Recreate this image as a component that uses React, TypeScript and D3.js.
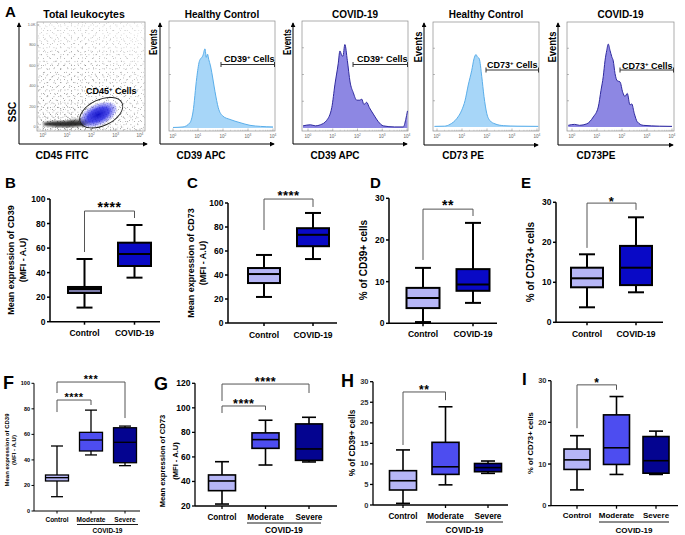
import React from "react";
import * as d3 from "d3";

const FONT = "'Liberation Sans', Arial, Helvetica, sans-serif";

// ---------------- categories ----------------
const groupsTwo = ["Control", "COVID-19"];
const groupsThree = ["Control", "Moderate", "Severe"];
const severityGroupLabel = "COVID-19";

// ---------------- box statistics: [min, q1, median, q3, max] ----------------
const cd39MfiB = [[11.5, 23.4, 26.6, 28.3, 51.1], [35.9, 45.4, 55.2, 64.4, 78.8]];
const cd73MfiC = [[21.7, 33.3, 40.8, 45.8, 56.7], [53.3, 64, 73.5, 79, 91.7]];
const cd39PctD = [[0.3, 3.65, 6.05, 8.5, 13.3], [4.9, 7.8, 9.3, 13, 24.1]];
const cd73PctE = [[3.75, 8.75, 11, 13.65, 17], [7.5, 9.3, 13.65, 19.1, 26.25]];
const cd39MfiF = [[11.2, 23.5, 26.1, 28.2, 50.9], [43.9, 47, 55.6, 61.6, 79], [35.5, 37.8, 53.8, 65.2, 66.5]];
const cd73MfiG = [[21.6, 32.5, 40.4, 45.3, 56.1], [53.4, 67, 74.1, 79.6, 89.9], [55.9, 57.2, 66.5, 86.9, 92.3]];
const cd39PctH = [[0.4, 3.65, 5.9, 8.35, 13.4], [4.9, 7.45, 9.3, 15.25, 23.9], [7.7, 8.1, 9.1, 10.1, 10.7]];
const cd73PctI = [[3.8, 8.7, 11, 13.6, 16.8], [7.5, 9.9, 13.9, 21.8, 26.2], [7.5, 7.8, 10.8, 16.6, 17.9]];

// ---------------- tick values ----------------
const ticksMfi = [0, 20, 40, 60, 80, 100];
const ticksMfiG = [20, 40, 60, 80, 100, 120];
const ticksPct10 = [0, 10, 20, 30];
const ticksPct5 = [0, 5, 10, 15, 20, 25, 30];
const decades = [0, 1, 2, 3, 4];
const sscTicks = [0, 200, 400, 600, 800, 1000];
const sscTickLabels = ["0", "200", "400", "600", "800", "1.0K"];

// ---------------- significance brackets ----------------
const sigB = [{ a: 0, b: 1, level: 90.2, endA: 56.8, endB: 84.5, label: "****" }];
const sigC = [{ a: 0, b: 1, level: 103.3, endA: 77.5, endB: 96.7, label: "****" }];
const sigD = [{ a: 0, b: 1, level: 27.4, endA: 15.2, endB: 25.75, label: "**" }];
const sigE = [{ a: 0, b: 1, level: 29.8, endA: 18.6, endB: 28.1, label: "*" }];
const sigF = [
  { a: 0, b: 1, level: 86.9, endA: 77.5, endB: 83, label: "****" },
  { a: 0, b: 2, level: 101, endA: 92.4, endB: 72.8, label: "***" },
];
const sigG = [
  { a: 0, b: 1, level: 101.5, endA: 95.8, endB: 98.2, label: "****" },
  { a: 0, b: 2, level: 119.4, endA: 105.6, endB: 112.1, label: "****" },
];
const sigH = [{ a: 0, b: 1, level: 27.5, endA: 14.6, endB: 25.5, label: "**" }];
const sigI = [{ a: 0, b: 1, level: 29, endA: 18.6, endB: 27.8, label: "*" }];

// ---------------- flow histograms: [log10 intensity, % of max scale] ----------------
const histHcCD39 = [[0, 0.5], [0.4, 1], [0.68, 5], [0.8, 15], [0.95, 47], [1.05, 62], [1.2, 68], [1.28, 74], [1.33, 66], [1.38, 69], [1.43, 64], [1.5, 58], [1.55, 52], [1.68, 34], [1.81, 19], [2.0, 11], [2.28, 8], [2.68, 5], [3.08, 2.5], [3.5, 1.5], [4, 1]];
const histCovCD39 = [[-0.2, 2], [0.1, 3], [0.3, 2], [0.5, 3], [0.75, 7], [0.96, 19], [1.09, 41], [1.22, 60], [1.29, 72], [1.36, 68], [1.41, 67], [1.49, 78], [1.59, 63], [1.7, 43], [1.83, 33], [1.97, 26], [2.1, 26], [2.17, 27], [2.26, 22], [2.37, 24], [2.48, 19], [2.64, 13], [2.84, 6], [3.04, 2], [3.5, 1], [3.85, 1], [3.95, 8], [4.02, 16]];
const histHcCD73 = [[-0.1, 0.6], [0.3, 0.8], [0.52, 2.5], [0.79, 8], [0.99, 16], [1.12, 25], [1.25, 40], [1.39, 54], [1.48, 65], [1.56, 69], [1.61, 67], [1.69, 65], [1.79, 48], [1.88, 29], [1.99, 13], [2.12, 6], [2.32, 3], [2.65, 1.3], [3.2, 0.8], [4.05, 0.6]];
const histCovCD73 = [[-0.15, 1.6], [0.1, 2.5], [0.3, 1.6], [0.59, 3], [0.85, 9.5], [1.05, 19], [1.16, 35], [1.25, 48], [1.32, 63], [1.39, 73], [1.45, 79], [1.52, 73], [1.59, 67], [1.65, 63], [1.72, 51], [1.81, 44], [1.92, 43], [2.03, 33], [2.12, 29], [2.21, 32], [2.32, 21], [2.39, 22], [2.49, 13], [2.61, 5], [2.85, 1.6], [3.5, 0.8], [4.0, 0.6]];

// gate starts (log10)
const gateStartCD39Hc = 1.92;
const gateStartCD39Cov = 1.82;
const gateStartCD73Hc = 1.96;
const gateStartCD73Cov = 1.92;

// CD45+ gate in (log10 CD45, SSC)
const cd45Gate = { logX: 2.4, ssc: 140 };

// ---------------- colors ----------------
const cControl = "#b6b6f6";
const cControlB = "#7b7ba9";
const cCovid = "#0909c6";
const cModerate = "#4d4df0";
const cSevere = "#040490";
const hcFill = "#a7d6f8";
const hcStroke = "#5aaeea";
const covFill = "#8d87e3";
const covStroke = "#2f2a9e";

type Bracket = { a: number; b: number; level: number; endA: number; endB: number; label: string };

function BoxPanel(p: any) {
  const y = d3.scaleLinear().domain(p.domain).range([p.yBottom, p.yTop]);
  const x = d3.scalePoint<string>().domain(p.cats).range(p.catRange);
  const tc = p.tickColor || "#000";
  const tl = p.tickLen ?? 3;
  return (
    <g>
      <text x={p.letterX} y={p.letterY} fontSize={p.letterSize} fontWeight="bold">{p.letter}</text>
      {p.titles.map((t: string, i: number) => (
        <text key={i} transform={`translate(${p.titleX[i]},${p.titleY}) rotate(-90)`} textAnchor="middle"
          dominantBaseline="central" fontSize={p.titleSize} fontWeight="bold">{t}</text>
      ))}
      <line x1={p.axisX} x2={p.axisX} y1={p.yBottom} y2={p.yTop} stroke="#000" strokeWidth={p.axisW} />
      <line x1={p.axisX} x2={p.xEnd} y1={p.yBottom} y2={p.yBottom} stroke="#000" strokeWidth={p.axisW} />
      {p.ticks.map((t: number) => (
        <g key={t}>
          <line x1={p.axisX - tl} x2={p.axisX} y1={y(t)} y2={y(t)} stroke="#000" strokeWidth={p.axisW} />
          <text x={p.axisX - tl - 1.5} y={y(t)} textAnchor="end" dominantBaseline="central"
            fontSize={p.tickSize} fontWeight="bold" fill={tc}>{t}</text>
        </g>
      ))}
      {p.cats.map((c: string) => (
        <g key={c}>
          <line x1={x(c)} x2={x(c)} y1={p.yBottom} y2={p.yBottom + tl} stroke="#000" strokeWidth={p.axisW} />
          <text x={x(c)} y={p.catY} textAnchor="middle" fontSize={p.catSize} fontWeight="bold">{c}</text>
        </g>
      ))}
      {p.group && (
        <g>
          <line x1={p.group.x1} x2={p.group.x2} y1={p.group.y} y2={p.group.y} stroke="#000" strokeWidth={0.9} />
          <text x={(p.group.x1 + p.group.x2) / 2} y={p.group.labelY} textAnchor="middle" fontSize={p.catSize}
            fontWeight="bold">{p.group.label}</text>
        </g>
      )}
      {p.stats.map((s: number[], i: number) => {
        const cx = x(p.cats[i]) as number;
        const bw = p.boxW, cw = p.capW;
        return (
          <g key={i} stroke="#000" strokeWidth={p.strokeW}>
            <line x1={cx} x2={cx} y1={y(s[4])} y2={y(s[3])} />
            <line x1={cx} x2={cx} y1={y(s[1])} y2={y(s[0])} />
            <line x1={cx - cw / 2} x2={cx + cw / 2} y1={y(s[4])} y2={y(s[4])} />
            <line x1={cx - cw / 2} x2={cx + cw / 2} y1={y(s[0])} y2={y(s[0])} />
            <rect x={cx - bw / 2} y={y(s[3])} width={bw} height={y(s[1]) - y(s[3])} fill={p.colors[i]} />
            <line x1={cx - bw / 2} x2={cx + bw / 2} y1={y(s[2])} y2={y(s[2])} />
          </g>
        );
      })}
      {p.brackets.map((b: Bracket, i: number) => {
        const xa = x(p.cats[b.a]) as number;
        const xb = x(p.cats[b.b]) as number;
        return (
          <g key={i}>
            <path d={`M${xa},${y(b.endA)}V${y(b.level)}H${xb}V${y(b.endB)}`} fill="none" stroke="#555" strokeWidth={1} />
            <text x={(xa + xb) / 2} y={y(b.level) - p.starDy + 0.58 * p.starSize} textAnchor="middle"
              fontSize={p.starSize} fontWeight="bold" letterSpacing={p.starSpacing ?? 0.5}>{b.label}</text>
          </g>
        );
      })}
    </g>
  );
}

function Decade({ x, y, e }: any) {
  return (
    <text x={x} y={y} textAnchor="middle" fontSize={4.5} fill="#666">
      10<tspan dy={-1.8} fontSize={3.2}>{e}</tspan>
    </text>
  );
}

function BoxTicks({ x, box }: any) {
  const marks: JSX.Element[] = [];
  decades.forEach((d) => {
    marks.push(<line key={`M${d}`} x1={x(d)} x2={x(d)} y1={box[3]} y2={box[3] - 2.5} stroke="#777" strokeWidth={0.5} />);
    if (d < 4)
      [2, 3, 4, 5, 6, 7, 8, 9].forEach((m) => {
        const v = d + Math.log10(m);
        marks.push(<line key={`m${d}-${m}`} x1={x(v)} x2={x(v)} y1={box[3]} y2={box[3] - 1.2} stroke="#999" strokeWidth={0.4} />);
      });
  });
  return <g>{marks}</g>;
}

function HistPanel(p: any) {
  const box = p.box;
  const x = d3.scaleLinear().domain([0, 4]).range([p.x0, p.x1]);
  const y = d3.scaleLinear().domain([0, 100]).range([p.base, box[1]]);
  const area = d3.area<number[]>().x((d) => x(d[0])).y0(p.base).y1((d) => y(d[1])).curve(d3.curveMonotoneX);
  const line = d3.line<number[]>().x((d) => x(d[0])).y((d) => y(d[1])).curve(d3.curveMonotoneX);
  const gx = x(p.gateFrom);
  return (
    <g>
      <clipPath id={`clip-${p.id}`}><rect x={box[0]} y={box[1]} width={box[2] - box[0]} height={box[3] - box[1]} /></clipPath>
      <rect x={box[0]} y={box[1]} width={box[2] - box[0]} height={box[3] - box[1]} fill="#fff" stroke="#8a8a8a" strokeWidth={0.7} />
      <g clipPath={`url(#clip-${p.id})`}>
        <path d={area(p.data) || ""} fill={p.fill} />
        <path d={line(p.data) || ""} fill="none" stroke={p.stroke} strokeWidth={1} />
      </g>
      {[0.25, 0.5, 0.75].map((f) => (
        <line key={f} x1={box[0]} x2={box[0] + 2} y1={y(f * 100)} y2={y(f * 100)} stroke="#777" strokeWidth={0.5} />
      ))}
      <BoxTicks x={x} box={box} />
      {decades.map((d) => <Decade key={d} x={x(d)} y={box[3] + 7} e={d} />)}
      <line x1={p.axisX} x2={p.axisX} y1={p.axisY} y2={23} stroke="#000" strokeWidth={1} markerEnd="url(#arr)" />
      <line x1={p.axisX} x2={box[2] - 1} y1={p.axisY} y2={p.axisY} stroke="#000" strokeWidth={1} markerEnd="url(#arr)" />
      <text x={(box[0] + box[2]) / 2} y={18} textAnchor="middle" fontSize={10} fontWeight="bold">{p.title}</text>
      <text x={p.xLabelX} y={159} textAnchor="middle" fontSize={10} fontWeight="bold">{p.xLabel}</text>
      <text transform={`translate(${p.eventsX},${p.eventsY}) rotate(-90)`} textAnchor="middle" dominantBaseline="central"
        fontSize={10} fontWeight="bold" textLength={p.eventsLen} lengthAdjust="spacingAndGlyphs">Events</text>
      <path d={`M${gx},${p.gateY - 2.5}V${p.gateY + 2.5}M${gx},${p.gateY}H${box[2]}M${box[2] - 0.5},${p.gateY - 2.5}V${p.gateY + 2.5}`}
        stroke="#333" strokeWidth={1} fill="none" />
      <text x={p.gateTextX} y={p.gateTextY} fontSize={9} fontWeight="bold">
        {p.marker}<tspan dy={-3} fontSize={6}>+</tspan><tspan dy={3}> Cells</tspan>
      </text>
    </g>
  );
}

function ScatterPanel() {
  const box = [37, 22, 145, 131];
  const x = d3.scaleLinear().domain([0, 4]).range([43, 140]);
  const y = d3.scaleLinear().domain([0, 1000]).range([127, 25]);
  const gx = x(cd45Gate.logX), gy = y(cd45Gate.ssc);
  return (
    <g>
      <clipPath id="clip-sc"><rect x={box[0]} y={box[1]} width={box[2] - box[0]} height={box[3] - box[1]} /></clipPath>
      <rect x={box[0]} y={box[1]} width={box[2] - box[0]} height={box[3] - box[1]} fill="#fff" stroke="#8a8a8a" strokeWidth={0.7} />
      <g clipPath="url(#clip-sc)">
        <g mask="url(#densMask)">
          <rect x={box[0]} y={box[1]} width={108} height={109} fill="url(#sp7)" />
          <rect x={box[0]} y={box[1]} width={108} height={109} fill="url(#sp11)" />
          <rect x={box[0]} y={box[1]} width={108} height={109} fill="url(#sp13)" />
        </g>
        <g mask="url(#lowMask)">
          <rect x={box[0]} y={80} width={108} height={50} fill="url(#sp5)" />
        </g>
        <ellipse cx={x(0.9)} cy={y(30)} rx={22} ry={3} fill="#111" opacity={0.85} filter="url(#blur1)" />
        <ellipse cx={x(1.5)} cy={y(50)} rx={12} ry={3} fill="#222" opacity={0.55} filter="url(#blur1)" />
        <ellipse cx={gx - 3} cy={gy + 2} rx={19} ry={10} transform={`rotate(-25,${gx - 3},${gy + 2})`} fill="url(#blueGrad)" />
        <ellipse cx={gx - 3} cy={gy + 2} rx={20} ry={11} transform={`rotate(-25,${gx - 3},${gy + 2})`} fill="url(#blueSpeck)" />
      </g>
      <ellipse cx={gx} cy={gy} rx={23} ry={13} transform={`rotate(-25,${gx},${gy})`} fill="none" stroke="#222" strokeWidth={0.9} />
      {sscTicks.map((t, i) => (
        <g key={t}>
          <line x1={box[0]} x2={box[0] + 2} y1={y(t)} y2={y(t)} stroke="#777" strokeWidth={0.5} />
          <text x={box[0] - 1.5} y={y(t)} textAnchor="end" dominantBaseline="central" fontSize={3.8} fill="#666">{sscTickLabels[i]}</text>
        </g>
      ))}
      <BoxTicks x={x} box={box} />
      {decades.map((d) => <Decade key={d} x={x(d)} y={box[3] + 6} e={d} />)}
      <line x1={19} x2={19} y1={144} y2={23} stroke="#000" strokeWidth={1} markerEnd="url(#arr)" />
      <line x1={19} x2={147} y1={144} y2={144} stroke="#000" strokeWidth={1} markerEnd="url(#arr)" />
      <text x={84} y={18} textAnchor="middle" fontSize={10.5} fontWeight="bold">Total leukocytes</text>
      <text x={62} y={159} textAnchor="middle" fontSize={10.5} fontWeight="bold">CD45 FITC</text>
      <text transform="translate(12,112) rotate(-90)" textAnchor="middle" dominantBaseline="central" fontSize={10} fontWeight="bold">SSC</text>
      <text x={86} y={94} fontSize={9} fontWeight="bold">CD45<tspan dy={-3} fontSize={6}>+</tspan><tspan dy={3}> Cells</tspan></text>
    </g>
  );
}

export default function App() {
  return (
    <svg width={685} height={535} viewBox="0 0 685 535" fontFamily={FONT}
      style={{ position: "absolute", left: 0, top: 0, background: "#fff" }}>
      <defs>
        <marker id="arr" viewBox="0 0 6 6" refX="5" refY="3" markerWidth="5" markerHeight="5" orient="auto" markerUnits="userSpaceOnUse">
          <path d="M0,0L6,3L0,6z" fill="#000" />
        </marker>
        <pattern id="sp7" width="7" height="7" patternUnits="userSpaceOnUse">
          <rect x="1.2" y="2.1" width="0.7" height="0.7" fill="#333" />
          <rect x="4.6" y="5.4" width="0.7" height="0.7" fill="#444" />
        </pattern>
        <pattern id="sp11" width="11" height="11" patternUnits="userSpaceOnUse" patternTransform="translate(3,2)">
          <rect x="2.3" y="0.6" width="0.7" height="0.7" fill="#333" />
          <rect x="8.1" y="3.9" width="0.7" height="0.7" fill="#444" />
          <rect x="5.2" y="8.3" width="0.7" height="0.7" fill="#333" />
          <rect x="0.4" y="6.1" width="0.7" height="0.7" fill="#555" />
        </pattern>
        <pattern id="sp13" width="13" height="13" patternUnits="userSpaceOnUse" patternTransform="translate(5,1)">
          <rect x="3.4" y="3.1" width="0.7" height="0.7" fill="#333" />
          <rect x="10.2" y="1.5" width="0.7" height="0.7" fill="#444" />
          <rect x="7.6" y="10.7" width="0.7" height="0.7" fill="#333" />
          <rect x="1.1" y="11.6" width="0.7" height="0.7" fill="#444" />
          <rect x="11.9" y="7.8" width="0.7" height="0.7" fill="#333" />
        </pattern>
        <pattern id="sp5" width="5" height="5" patternUnits="userSpaceOnUse" patternTransform="translate(2,1)">
          <rect x="0.5" y="0.8" width="0.8" height="0.8" fill="#222" />
          <rect x="3.1" y="2.9" width="0.7" height="0.7" fill="#333" />
        </pattern>
        <pattern id="blueSpeck" width="3" height="3" patternUnits="userSpaceOnUse">
          <rect x="0.3" y="0.4" width="0.9" height="0.9" fill="#1a1ad0" />
          <rect x="1.8" y="1.9" width="0.8" height="0.8" fill="#3030e8" />
        </pattern>
        <radialGradient id="blueGrad">
          <stop offset="0" stopColor="#1010c4" stopOpacity="1" />
          <stop offset="0.6" stopColor="#3434e6" stopOpacity="0.85" />
          <stop offset="1" stopColor="#7a7af5" stopOpacity="0.2" />
        </radialGradient>
        <radialGradient id="densGrad" cx="0.3" cy="1" r="1.15" gradientUnits="objectBoundingBox">
          <stop offset="0" stopColor="#fff" stopOpacity="1" />
          <stop offset="0.55" stopColor="#fff" stopOpacity="0.75" />
          <stop offset="1" stopColor="#fff" stopOpacity="0.25" />
        </radialGradient>
        <mask id="densMask" maskContentUnits="userSpaceOnUse">
          <rect x="37" y="22" width="108" height="109" fill="url(#densGrad)" />
        </mask>
        <radialGradient id="lowGrad" cx="0.35" cy="0.9" r="0.6" gradientUnits="objectBoundingBox">
          <stop offset="0" stopColor="#fff" stopOpacity="0.9" />
          <stop offset="1" stopColor="#fff" stopOpacity="0" />
        </radialGradient>
        <mask id="lowMask" maskContentUnits="userSpaceOnUse">
          <rect x="37" y="80" width="108" height="50" fill="url(#lowGrad)" />
        </mask>
        <filter id="blur1"><feGaussianBlur stdDeviation="1.1" /></filter>
      </defs>

      <text x={5} y={17} fontSize={15} fontWeight="bold">A</text>
      <ScatterPanel />
      <HistPanel id="h1" data={histHcCD39} box={[169, 21, 275, 131]} x0={173} x1={273} base={128}
        fill={hcFill} stroke={hcStroke} title="Healthy Control" axisX={160} axisY={144}
        xLabel="CD39 APC" xLabelX={201} eventsX={153} eventsY={42} eventsLen={26}
        gateFrom={gateStartCD39Hc} gateY={64.5} marker="CD39" gateTextX={224} gateTextY={62} />
      <HistPanel id="h2" data={histCovCD39} box={[302, 21, 408, 131]} x0={308} x1={407} base={128}
        fill={covFill} stroke={covStroke} title="COVID-19" axisX={293} axisY={144}
        xLabel="CD39 APC" xLabelX={335} eventsX={287} eventsY={42} eventsLen={26}
        gateFrom={gateStartCD39Cov} gateY={64.5} marker="CD39" gateTextX={357} gateTextY={62} />
      <HistPanel id="h3" data={histHcCD73} box={[433, 22, 539, 131]} x0={437} x1={537} base={127}
        fill={hcFill} stroke={hcStroke} title="Healthy Control" axisX={424} axisY={145}
        xLabel="CD73 PE" xLabelX={463} eventsX={418} eventsY={47} eventsLen={31}
        gateFrom={gateStartCD73Hc} gateY={70} marker="CD73" gateTextX={487} gateTextY={67.5} />
      <HistPanel id="h4" data={histCovCD73} box={[567, 22, 674, 131]} x0={572} x1={672} base={127}
        fill={covFill} stroke={covStroke} title="COVID-19" axisX={558} axisY={145}
        xLabel="CD73PE" xLabelX={596} eventsX={552} eventsY={47} eventsLen={31}
        gateFrom={gateStartCD73Cov} gateY={70} marker="CD73" gateTextX={622} gateTextY={68.5} />

      {/* B */}
      <BoxPanel letter="B" letterX={5} letterY={188} letterSize={15}
        axisX={50} yBottom={321.7} yTop={199} domain={[0, 100]} ticks={ticksMfi} tickSize={8.5} axisW={1.5}
        xEnd={160} cats={groupsTwo} catRange={[84.5, 134.5]} catSize={8.5} catY={336}
        stats={cd39MfiB} colors={[cControlB, cCovid]} boxW={33} capW={16} strokeW={2}
        titles={["Mean expression of CD39", "(MFI - A.U)"]} titleX={[10.5, 23]} titleY={260} titleSize={9}
        brackets={sigB} starSize={14} starDy={7.5} />
      {/* C */}
      <BoxPanel letter="C" letterX={187} letterY={188} letterSize={15}
        axisX={228} yBottom={323} yTop={203} domain={[0, 100]} ticks={ticksMfi} tickSize={8.5} axisW={1.5}
        xEnd={337} cats={groupsTwo} catRange={[264, 313]} catSize={8.5} catY={337.5}
        stats={cd73MfiC} colors={[cControl, cCovid]} boxW={32} capW={16} strokeW={2}
        titles={["Mean expression of CD73", "(MFI - A.U)"]} titleX={[191, 203]} titleY={263} titleSize={9}
        brackets={sigC} starSize={13} starDy={6.5} />
      {/* D */}
      <BoxPanel letter="D" letterX={370} letterY={188} letterSize={15}
        axisX={389} yBottom={323.3} yTop={198.3} domain={[0, 30]} ticks={ticksPct10} tickSize={8.5} axisW={1.5}
        xEnd={497} cats={groupsTwo} catRange={[423, 473]} catSize={8.5} catY={337}
        stats={cd39PctD} colors={[cControl, cCovid]} boxW={33} capW={16} strokeW={2}
        titles={["% of CD39+ cells"]} titleX={[363]} titleY={260} titleSize={10}
        brackets={sigD} starSize={14} starDy={7.5} />
      {/* E */}
      <BoxPanel letter="E" letterX={521} letterY={188} letterSize={15}
        axisX={556} yBottom={322.3} yTop={202.3} domain={[0, 30]} ticks={ticksPct10} tickSize={8.5} axisW={1.5}
        xEnd={663} cats={groupsTwo} catRange={[587, 636]} catSize={8.5} catY={337}
        stats={cd73PctE} colors={[cControl, cCovid]} boxW={32} capW={16} strokeW={2}
        titles={["% of CD73+ cells"]} titleX={[530]} titleY={262} titleSize={10}
        brackets={sigE} starSize={13} starDy={5} />

      {/* F */}
      <BoxPanel letter="F" letterX={3} letterY={389} letterSize={18}
        axisX={34} yBottom={511} yTop={383.3} domain={[0, 100]} ticks={ticksMfi} tickSize={5.5} axisW={1}
        tickLen={2.5} xEnd={140} cats={groupsThree} catRange={[57, 125]} catSize={6.5} catY={521.5}
        stats={cd39MfiF} colors={[cControl, cModerate, cSevere]} boxW={23} capW={12} strokeW={1.3}
        titles={["Mean expression of CD39", "(MFI - A.U)"]} titleX={[7, 14]} titleY={450} titleSize={6}
        group={{ x1: 77, x2: 138, y: 524.5, labelY: 533, label: severityGroupLabel }}
        brackets={sigF} starSize={11} starDy={5} />
      {/* G */}
      <BoxPanel letter="G" letterX={154} letterY={390} letterSize={18}
        axisX={195} yBottom={506} yTop={383.3} domain={[20, 120]} ticks={ticksMfiG} tickSize={8.5} axisW={1.3}
        xEnd={337} cats={groupsThree} catRange={[222, 309]} catSize={8.2} catY={519.5}
        stats={cd73MfiG} colors={[cControl, cModerate, cSevere]} boxW={27} capW={14} strokeW={1.6}
        titles={["Mean expression of CD73", "(MFI - A.U)"]} titleX={[162.5, 175]} titleY={461} titleSize={7.6}
        group={{ x1: 247, x2: 321, y: 523, labelY: 533, label: severityGroupLabel }}
        brackets={sigG} starSize={12.5} starDy={5.5} />
      {/* H */}
      <BoxPanel letter="H" letterX={341} letterY={387} letterSize={18}
        axisX={373} yBottom={505} yTop={381.7} domain={[0, 30]} ticks={ticksPct5} tickSize={7.5} tickColor="#333" axisW={1.3}
        xEnd={508} cats={groupsThree} catRange={[403, 488]} catSize={8.2} catY={519}
        stats={cd39PctH} colors={[cControl, cModerate, cSevere]} boxW={27} capW={14} strokeW={1.6}
        titles={["% of CD39+ cells"]} titleX={[352]} titleY={443} titleSize={8.3}
        group={{ x1: 426, x2: 503, y: 522, labelY: 532.5, label: severityGroupLabel }}
        brackets={sigH} starSize={12} starDy={4.5} />
      {/* I */}
      <BoxPanel letter="I" letterX={522} letterY={385} letterSize={17}
        axisX={551} yBottom={505.7} yTop={380.7} domain={[0, 30]} ticks={ticksPct10} tickSize={7.5} tickColor="#333" axisW={1.3}
        xEnd={678} cats={groupsThree} catRange={[577, 656]} catSize={8} catY={518}
        stats={cd73PctI} colors={[cControl, cModerate, cSevere]} boxW={26} capW={14} strokeW={1.6}
        titles={["% of CD73+ cells"]} titleX={[530]} titleY={443} titleSize={7.7}
        group={{ x1: 599, x2: 669, y: 522, labelY: 532.5, label: severityGroupLabel }}
        brackets={sigI} starSize={12} starDy={5} />
    </svg>
  );
}
